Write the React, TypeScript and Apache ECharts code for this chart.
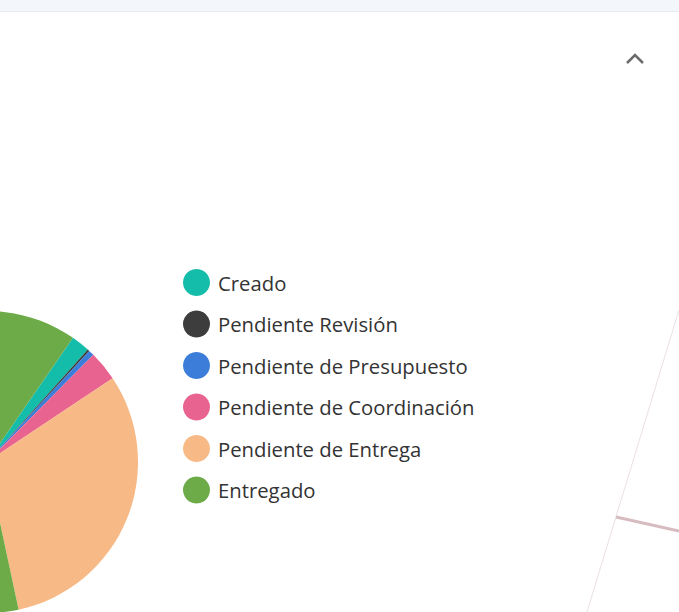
import React, { useEffect, useRef } from "react";
import * as echarts from "echarts";

const categories = [
  "Creado",
  "Pendiente Revisión",
  "Pendiente de Presupuesto",
  "Pendiente de Coordinación",
  "Pendiente de Entrega",
  "Entregado",
];
const values = [10, 1, 3, 16, 155, 315];
const colors = ["#14bcaa", "#3d3d3d", "#3b7dd8", "#e8638f", "#f7b985", "#6cab47"];

export default function App() {
  const ref = useRef<HTMLDivElement>(null);
  useEffect(() => {
    if (!ref.current) return;
    const chart = echarts.init(ref.current, undefined, { renderer: "svg" });
    chart.setOption({
      animation: false,
      backgroundColor: "#ffffff",
      color: colors,
      legend: {
        orient: "vertical",
        left: 178,
        top: 264,
        icon: "circle",
        itemWidth: 27,
        itemHeight: 27,
        itemGap: 14.5,
        textStyle: {
          fontSize: 20.3,
          color: "#333333",
          fontFamily: "Open Sans",
          padding: [0, 0, 0, 3],
        },
        data: categories,
      },
      series: [
        {
          type: "pie",
          center: [-13, 462],
          radius: 151,
          startAngle: 55.3,
          clockwise: true,
          label: { show: false },
          labelLine: { show: false },
          emphasis: { disabled: true },
          data: categories.map((name, i) => ({ name, value: values[i] })),
        },
      ],
      graphic: [
        {
          type: "rect",
          shape: { x: 0, y: 0, width: 679, height: 11 },
          style: { fill: "#f3f6fa" },
        },
        {
          type: "line",
          shape: { x1: 0, y1: 11.5, x2: 679, y2: 11.5 },
          style: { stroke: "#e6ebf1", lineWidth: 1 },
        },
        {
          type: "polyline",
          shape: { points: [[627, 63], [635, 55], [643, 63]] },
          style: { stroke: "#6b6b6b", lineWidth: 2.5, fill: null },
        },
        {
          type: "line",
          shape: { x1: 679, y1: 310, x2: 587, y2: 612 },
          style: { stroke: "#ecdfe1", lineWidth: 1 },
        },
        {
          type: "line",
          shape: { x1: 616, y1: 517, x2: 679, y2: 531 },
          style: { stroke: "#d6bcc1", lineWidth: 3 },
        },
      ],
    });
    return () => chart.dispose();
  }, []);
  return (
    <div
      ref={ref}
      style={{ position: "fixed", left: 0, top: 0, width: 679, height: 612 }}
    />
  );
}
